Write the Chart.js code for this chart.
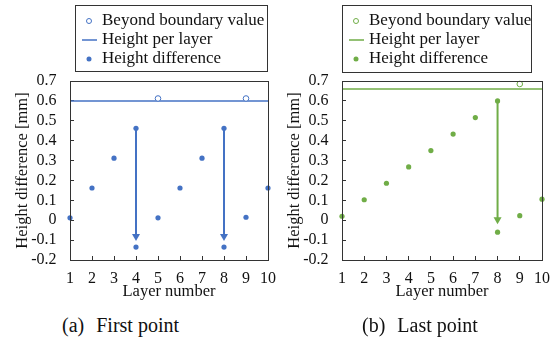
<!DOCTYPE html>
<html lang="en">
<head>
<meta charset="UTF-8">
<title>Height difference per layer</title>
<script src="https://cdn.jsdelivr.net/npm/chart.js"></script>
<style>
  body { margin: 0; background: #fff; font-family: "Liberation Serif", serif; }
  #wrap { position: relative; width: 558px; height: 338px; overflow: hidden; }
  .panel { position: absolute; top: 0; width: 279px; height: 305px; }
  .caption { position: absolute; top: 313px; font-size: 20px; line-height: 24px; color: #111; white-space: nowrap; }
  .caption span { margin-left: 12px; }
</style>
</head>
<body>
<div id="wrap">
  <div class="panel" style="left:0"><canvas id="chartA"></canvas></div>
  <div class="panel" style="left:272px"><canvas id="chartB"></canvas></div>
  <div class="caption" style="left:62px">(a)<span>First point</span></div>
  <div class="caption" style="left:362px">(b)<span>Last point</span></div>
</div>
<script>
// (a) first point
const diffLayersA = [1, 2, 3, 4, 4, 5, 6, 7, 8, 8, 9, 10];
const diffValuesA = [0.012, 0.162, 0.312, 0.462, -0.135, 0.012, 0.162, 0.312, 0.462, -0.135, 0.015, 0.162];
const beyondLayersA = [5, 9];
const beyondValuesA = [0.612, 0.612];
const layerHeightA = 0.6;
const arrowLayersA = [4, 8];
const arrowFromA = [0.462, 0.462];
const arrowToA = [-0.105, -0.105];

// (b) last point
const diffLayersB = [1, 2, 3, 4, 5, 6, 7, 8, 8, 9, 10];
const diffValuesB = [0.02, 0.103, 0.186, 0.268, 0.35, 0.433, 0.516, 0.6, -0.06, 0.023, 0.106];
const beyondLayersB = [9];
const beyondValuesB = [0.685];
const layerHeightB = 0.66;
const arrowLayersB = [8];
const arrowFromB = [0.6];
const arrowToB = [-0.02];

const layerMin = 1, layerMax = 10;
const yMin = -0.2, yMax = 0.7, yStep = 0.1;
const seriesLabels = ['Beyond boundary value', 'Height per layer', 'Height difference'];
const xTitle = 'Layer number';
const yTitle = 'Height difference [mm]';

Chart.defaults.font.family = '"Liberation Serif", "Times New Roman", serif';
Chart.defaults.color = '#111';

const toPoints = (xs, ys) => xs.map((x, i) => ({ x: x, y: ys[i] }));

// plot frame, arrows and the boxed legend
const extras = {
  id: 'extras',
  afterDatasetsDraw(chart, args, opts) {
    const ctx = chart.ctx, xs = chart.scales.x, ys = chart.scales.y;
    ctx.save();
    ctx.strokeStyle = opts.color;
    ctx.fillStyle = opts.color;
    ctx.lineWidth = 2;
    opts.arrowLayers.forEach((l, i) => {
      const px = xs.getPixelForValue(l);
      const y0 = ys.getPixelForValue(opts.arrowFrom[i]);
      const y1 = ys.getPixelForValue(opts.arrowTo[i]);
      ctx.beginPath();
      ctx.moveTo(px, y0);
      ctx.lineTo(px, y1 - 6);
      ctx.stroke();
      ctx.beginPath();
      ctx.moveTo(px - 4, y1 - 7);
      ctx.lineTo(px + 4, y1 - 7);
      ctx.lineTo(px, y1);
      ctx.closePath();
      ctx.fill();
    });
    ctx.restore();
  },
  afterDraw(chart, args, opts) {
    const ctx = chart.ctx, a = chart.chartArea;
    ctx.save();
    ctx.strokeStyle = '#333';
    ctx.lineWidth = 1;
    ctx.strokeRect(Math.round(a.left) + 0.5, Math.round(a.top) + 0.5, Math.round(a.right - a.left), Math.round(a.bottom - a.top));
    const b = opts.box;
    ctx.strokeRect(b.left + 0.5, b.top + 0.5, b.width, b.height);
    ctx.font = '17px "Liberation Serif", serif';
    ctx.textBaseline = 'middle';
    ctx.textAlign = 'left';
    chart.data.datasets.forEach((ds, i) => {
      const cy = b.top + 16 + i * 19;
      const mx = b.left + 14;
      ctx.strokeStyle = opts.color;
      ctx.fillStyle = opts.color;
      if (ds.showLine) {
        ctx.lineWidth = 1.5;
        ctx.beginPath();
        ctx.moveTo(b.left + 7, cy);
        ctx.lineTo(b.left + 22, cy);
        ctx.stroke();
      } else if (ds.pointBackgroundColor === '#fff') {
        ctx.lineWidth = 1;
        ctx.beginPath();
        ctx.arc(mx, cy, 2.5, 0, Math.PI * 2);
        ctx.stroke();
      } else {
        ctx.beginPath();
        ctx.arc(mx, cy, 2.5, 0, Math.PI * 2);
        ctx.fill();
      }
      ctx.fillStyle = '#111';
      ctx.fillText(ds.label, b.left + 27, cy);
    });
    ctx.restore();
  }
};

// fixed axis sizes, no extra label padding pushed into the layout
const fixX = s => { s.height = 45; s.paddingLeft = 0; s.paddingRight = 0; };
const fixY = s => { s.width = 70; s.paddingTop = 0; s.paddingBottom = 0; };

function makeChart(id, color, diff, beyond, layerHeight, arrows, box, padRight) {
  return new Chart(document.getElementById(id), {
    type: 'scatter',
    data: {
      datasets: [
        { label: seriesLabels[0], data: beyond, pointRadius: 2.8, pointBorderWidth: 1,
          pointBackgroundColor: '#fff', pointBorderColor: color, clip: false },
        { label: seriesLabels[1], data: [{ x: layerMin, y: layerHeight }, { x: layerMax, y: layerHeight }],
          showLine: true, borderColor: color, borderWidth: 1.5, pointRadius: 0, clip: false },
        { label: seriesLabels[2], data: diff, pointRadius: 2.6, pointBorderWidth: 0,
          pointBackgroundColor: color, pointBorderColor: color, clip: false }
      ]
    },
    options: {
      responsive: true,
      maintainAspectRatio: false,
      animation: false,
      layout: { padding: { top: 81, right: padRight, bottom: 0, left: 0 } },
      plugins: {
        legend: { display: false },
        tooltip: { enabled: false },
        extras: Object.assign({ color: color, box: box }, arrows)
      },
      scales: {
        x: {
          type: 'linear', min: layerMin, max: layerMax,
          afterFit: fixX,
          grid: { drawOnChartArea: false, drawTicks: true, tickLength: -4, color: '#333' },
          border: { color: '#333' },
          ticks: { stepSize: 1, autoSkip: false, maxRotation: 0, padding: 13, font: { size: 16 }, color: '#111' },
          title: { display: true, text: xTitle, font: { size: 16.5 }, padding: { top: 0, bottom: 3 }, color: '#111' }
        },
        y: {
          min: yMin, max: yMax,
          afterFit: fixY,
          grid: { drawOnChartArea: false, drawTicks: true, tickLength: -4, color: '#333' },
          border: { color: '#333' },
          ticks: {
            stepSize: yStep, autoSkip: false, padding: 17.5, font: { size: 16 }, color: '#111',
            callback: v => String(Math.round(v * 10) / 10 + 0)
          },
          title: { display: true, text: yTitle, font: { size: 16.5 }, padding: { top: 12.6, bottom: 0 }, color: '#111' }
        }
      }
    },
    plugins: [extras]
  });
}

makeChart('chartA', '#4472C4',
  toPoints(diffLayersA, diffValuesA), toPoints(beyondLayersA, beyondValuesA), layerHeightA,
  { arrowLayers: arrowLayersA, arrowFrom: arrowFromA, arrowTo: arrowToA },
  { left: 75, top: 5, width: 192, height: 66 }, 11);

makeChart('chartB', '#70AD47',
  toPoints(diffLayersB, diffValuesB), toPoints(beyondLayersB, beyondValuesB), layerHeightB,
  { arrowLayers: arrowLayersB, arrowFrom: arrowFromB, arrowTo: arrowToB },
  { left: 70, top: 5, width: 189, height: 67 }, 9);
</script>
</body>
</html>
